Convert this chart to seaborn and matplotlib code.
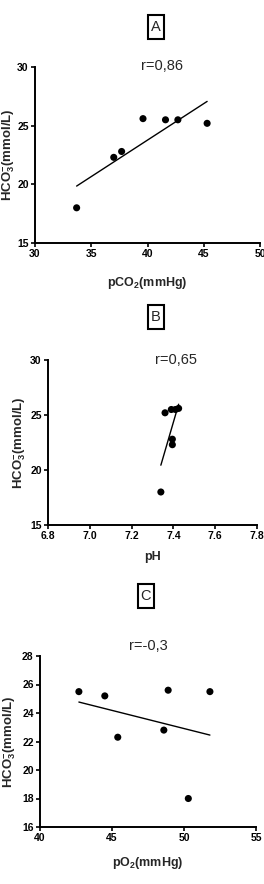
import matplotlib
matplotlib.use("Agg")
import matplotlib.pyplot as plt
from matplotlib import font_manager
from matplotlib.patches import Rectangle
import seaborn as sns
import pandas as pd

# ---- data ----
hco3 = [18.0, 22.3, 22.8, 25.6, 25.5, 25.5, 25.2]
pco2 = [33.7, 37.0, 37.7, 39.6, 41.6, 42.7, 45.3]
ph = [7.34, 7.395, 7.395, 7.425, 7.39, 7.41, 7.36]
po2 = [50.3, 45.4, 48.6, 48.9, 42.7, 51.8, 44.5]

panel_letters = ["A", "B", "C"]
r_texts = ["r=0,86", "r=0,65", "r=-0,3"]
x_labels = ["pCO$_2$(mmHg)", "pH", "pO$_2$(mmHg)"]
y_label = "HCO$^{-}_{3}$(mmol/L)"
x_ticks = [[30, 35, 40, 45, 50], [6.8, 7.0, 7.2, 7.4, 7.6, 7.8], [40, 45, 50, 55]]
y_ticks = [[15, 20, 25, 30], [15, 20, 25, 30], [16, 18, 20, 22, 24, 26, 28]]

df = pd.DataFrame({"hco3": hco3, "pco2": pco2, "ph": ph, "po2": po2})
xcols = ["pco2", "ph", "po2"]

sns.set_style("ticks")
avail = {f.name for f in font_manager.fontManager.ttflist}
fams = [f for f in ["Liberation Sans Narrow", "Liberation Sans", "DejaVu Sans"] if f in avail]
plt.rcParams["font.family"] = fams
plt.rcParams["mathtext.fontset"] = "custom"
plt.rcParams["mathtext.rm"] = fams[0] + ":bold"
plt.rcParams["mathtext.it"] = fams[0] + ":bold"
plt.rcParams["mathtext.default"] = "rm"

W, H = 264, 884
fig = plt.figure(figsize=(W / 100, H / 100), dpi=100)

# pixel boxes: left, top, right, bottom
boxes = [(35, 67, 260, 243), (48, 360, 257, 525), (40, 656, 256, 827)]
letter_pos = [(155.5, 27), (155.5, 317), (145.5, 596)]
r_pos = [(162, 66), (176, 360), (148, 646)]
ylab_x = [8.5, 20, 10]
xlab_y = [283, 557, 863]

for i in range(3):
    l, t, r, b = boxes[i]
    ax = fig.add_axes([l / W, 1 - b / H, (r - l) / W, (b - t) / H])
    sns.regplot(data=df, x=xcols[i], y="hco3", ax=ax, ci=None,
                scatter_kws=dict(s=26, color="black", edgecolor="none", alpha=1, zorder=3),
                line_kws=dict(color="black", lw=1.0))
    ax.set_xlim(x_ticks[i][0], x_ticks[i][-1])
    ax.set_ylim(y_ticks[i][0], y_ticks[i][-1])
    ax.set_xticks(x_ticks[i])
    ax.set_yticks(y_ticks[i])
    if i == 1:
        ax.set_xticklabels([f"{v:.1f}" for v in x_ticks[i]])
    sns.despine(ax=ax)
    for s in ["left", "bottom"]:
        ax.spines[s].set_linewidth(1.4)
        ax.spines[s].set_color("black")
    ax.tick_params(direction="out", length=3, width=1.2, labelsize=7.5, pad=1.5, colors="black")
    for lab in ax.get_xticklabels() + ax.get_yticklabels():
        lab.set_fontweight("bold")
    ax.set_xlabel(x_labels[i], fontsize=9, fontweight="bold")
    ax.set_ylabel(y_label, fontsize=9.5, fontweight="bold")
    # place axis labels at reference pixel positions
    ax.xaxis.set_label_coords(((l + r) / 2) / W, 1 - xlab_y[i] / H, transform=fig.transFigure)
    ax.xaxis.label.set_va("center")
    ax.yaxis.set_label_coords(ylab_x[i] / W, 1 - ((t + b) / 2) / H, transform=fig.transFigure)
    ax.yaxis.label.set_va("center")
    lx, ly = letter_pos[i]
    bw, bh = 16, 24
    fig.add_artist(Rectangle(((lx - bw / 2) / W, 1 - (ly + bh / 2) / H), bw / W, bh / H,
                             transform=fig.transFigure, fill=False, ec="black", lw=1.5))
    fig.text(lx / W, 1 - ly / H, panel_letters[i], ha="center", va="center", fontsize=10.5)
    rx, ry = r_pos[i]
    fig.text(rx / W, 1 - ry / H, r_texts[i], ha="center", va="center", fontsize=10.5)

fig.savefig("out.png", dpi=100)
